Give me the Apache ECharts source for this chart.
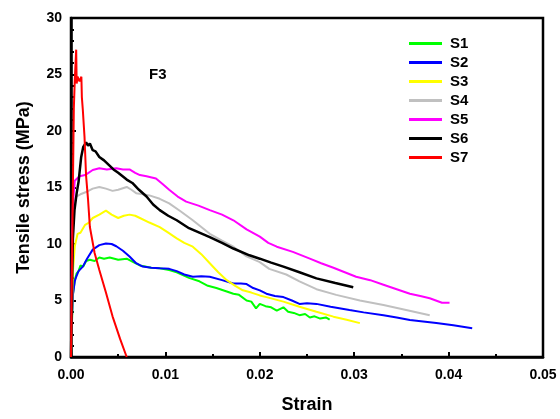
<!DOCTYPE html>
<html>
<head>
<meta charset="utf-8">
<script src="https://cdn.jsdelivr.net/npm/echarts@6/dist/echarts.min.js"></script>
<style>
  html, body { margin: 0; padding: 0; background: #fff; }
  #main { width: 560px; height: 419px; }
</style>
</head>
<body>
<div id="main"></div>
<script>
// tick labels / names
var xTicks = [0, 0.01, 0.02, 0.03, 0.04, 0.05];
var yTicks = [0, 5, 10, 15, 20, 25, 30];
var names = ['S1', 'S2', 'S3', 'S4', 'S5', 'S6', 'S7'];
var colors = ['#00ff00', '#0000ff', '#ffff00', '#c0c0c0', '#ff00ff', '#000000', '#ff0000'];

// [strain, stress MPa]
var s1 = [[0,0],[0.0001,3],[0.0002,5.5],[0.0004,6.8],[0.0006,7.4],[0.0008,7.6],[0.001,8.1],[0.0013,8.0],[0.0016,8.5],[0.002,8.6],[0.0025,8.5],[0.003,8.8],[0.0035,8.7],[0.0041,8.8],[0.005,8.6],[0.0059,8.7],[0.0066,8.4],[0.0073,8.1],[0.0085,7.9],[0.0094,7.85],[0.0104,7.7],[0.0112,7.5],[0.0125,7.0],[0.0136,6.7],[0.0145,6.3],[0.0154,6.1],[0.0165,5.8],[0.0172,5.6],[0.0178,5.5],[0.0186,5.0],[0.0191,4.9],[0.0196,4.3],[0.02,4.7],[0.0206,4.5],[0.0212,4.4],[0.0218,4.1],[0.0225,4.4],[0.023,4.0],[0.0236,3.9],[0.0242,3.7],[0.0248,3.8],[0.0253,3.5],[0.0258,3.6],[0.0264,3.4],[0.027,3.5],[0.0274,3.3]];
var s2 = [[0,0],[0.0001,3.5],[0.0002,5.5],[0.0004,6.7],[0.00055,7.1],[0.0008,7.6],[0.00125,8.0],[0.0017,8.7],[0.0023,9.5],[0.003,9.9],[0.0037,10.05],[0.0043,10.0],[0.0048,9.8],[0.0055,9.4],[0.0062,8.9],[0.0069,8.3],[0.0076,8.0],[0.0085,7.9],[0.0094,7.85],[0.0104,7.8],[0.0112,7.6],[0.012,7.3],[0.0129,7.1],[0.0138,7.15],[0.0147,7.1],[0.016,6.8],[0.0172,6.5],[0.018,6.5],[0.0186,6.45],[0.0193,6.1],[0.02,5.9],[0.0207,5.6],[0.0216,5.4],[0.0225,5.3],[0.0234,5.0],[0.0242,4.7],[0.025,4.75],[0.026,4.7],[0.0275,4.45],[0.0295,4.16],[0.031,3.95],[0.0331,3.7],[0.0345,3.5],[0.0359,3.27],[0.0373,3.15],[0.0387,3.0],[0.0405,2.8],[0.0425,2.55]];
var s3 = [[0,0],[0.0001,4],[0.0002,7.5],[0.0004,9.8],[0.0007,10.9],[0.001,11.0],[0.0015,11.7],[0.0019,11.9],[0.0023,12.3],[0.003,12.6],[0.0037,12.95],[0.0043,12.6],[0.005,12.3],[0.0056,12.5],[0.0062,12.6],[0.0068,12.5],[0.0073,12.3],[0.0083,11.9],[0.0094,11.5],[0.0103,11.0],[0.0112,10.5],[0.012,10.1],[0.0129,9.76],[0.0138,9.1],[0.0147,8.3],[0.0156,7.5],[0.0165,6.8],[0.0174,6.3],[0.0182,5.9],[0.0191,5.7],[0.02,5.45],[0.0207,5.3],[0.0225,4.9],[0.0242,4.45],[0.026,4.0],[0.0278,3.57],[0.0292,3.3],[0.0306,3.0]];
var s4 = [[0,0],[0.0001,7],[0.0002,11.5],[0.0003,13.5],[0.00055,14.2],[0.001,14.4],[0.0016,14.6],[0.0023,14.9],[0.003,15.05],[0.0037,14.9],[0.0044,14.7],[0.005,14.8],[0.0059,15.05],[0.0064,14.8],[0.0069,14.5],[0.0076,14.4],[0.0083,14.3],[0.0094,14.0],[0.0104,13.6],[0.0116,12.9],[0.0129,12.1],[0.0138,11.5],[0.0147,10.9],[0.016,10.3],[0.0172,9.76],[0.0186,8.9],[0.02,8.4],[0.021,7.8],[0.0228,7.3],[0.0242,6.7],[0.026,6.0],[0.0281,5.5],[0.0306,5.0],[0.0331,4.6],[0.0355,4.16],[0.038,3.7]];
var s5 = [[0,0],[0.0001,9],[0.0002,13.5],[0.0004,15.6],[0.0009,16.0],[0.0015,16.1],[0.0023,16.55],[0.003,16.7],[0.0038,16.6],[0.0048,16.7],[0.0055,16.6],[0.0062,16.6],[0.0068,16.3],[0.0073,16.1],[0.008,16.0],[0.009,15.8],[0.0097,15.3],[0.0104,14.8],[0.0113,14.2],[0.0122,13.75],[0.0135,13.4],[0.0147,13.0],[0.016,12.6],[0.0172,12.1],[0.0186,11.3],[0.02,10.65],[0.0209,10.1],[0.0218,9.76],[0.0235,9.3],[0.0253,8.7],[0.0265,8.3],[0.0278,7.9],[0.029,7.5],[0.0302,7.1],[0.0317,6.8],[0.0331,6.4],[0.0345,6.0],[0.0359,5.6],[0.037,5.4],[0.038,5.2],[0.0393,4.8],[0.0401,4.8]];
var s6 = [[0,0],[0.0001,6],[0.0002,10.5],[0.00037,13],[0.0006,14.5],[0.0008,15.5],[0.00108,17.7],[0.0013,18.6],[0.0016,19.0],[0.0018,18.7],[0.002,18.9],[0.0023,18.3],[0.0026,18.2],[0.003,17.7],[0.0035,17.4],[0.004,17.0],[0.0045,16.6],[0.005,16.3],[0.0059,15.7],[0.0065,15.4],[0.0072,14.8],[0.008,14.2],[0.0087,13.5],[0.0094,13.0],[0.0103,12.5],[0.0112,12.1],[0.0125,11.4],[0.0136,11.0],[0.0147,10.6],[0.016,10.1],[0.0172,9.6],[0.0189,9.0],[0.02,8.7],[0.0212,8.35],[0.0225,8.0],[0.0242,7.5],[0.026,6.96],[0.028,6.55],[0.0299,6.17]];
var s7 = [[0,0],[0.0002,15],[0.0003,22],[0.0004,24.5],[0.00055,27.2],[0.0006,24.2],[0.0007,24.8],[0.0009,24.4],[0.0011,24.8],[0.00115,23],[0.00125,21.9],[0.00143,19.5],[0.0016,16],[0.0018,14],[0.002,11.5],[0.0025,9.2],[0.003,7.7],[0.0037,5.7],[0.0044,3.6],[0.0052,1.6],[0.0059,0]];
var allData = [s1, s2, s3, s4, s5, s6, s7];

var chart = echarts.init(document.getElementById('main'));
var bold = { fontFamily: 'Liberation Sans, Arial, sans-serif', fontWeight: 'bold', color: '#000' };

var series = [];
for (var i = 0; i < names.length; i++) {
  series.push({
    name: names[i],
    type: 'line',
    data: allData[i],
    showSymbol: false,
    symbol: 'none',
    color: colors[i],
    lineStyle: { width: i == 5 ? 2.5 : 2, color: colors[i] },
    animation: false
  });
}

var option = {
  backgroundColor: '#fff',
  animation: false,
  title: {
    text: 'F3',
    left: 144, top: 62,
    textStyle: Object.assign({ fontSize: 15 }, bold)
  },
  grid: { left: 71, right: 17, top: 18, bottom: 61, show: true, borderColor: '#000', borderWidth: 2.5 },
  legend: {
    orient: 'vertical',
    left: 409, top: 36,
    padding: 0,
    icon: 'rect',
    itemWidth: 33, itemHeight: 3,
    itemGap: 4,
    textStyle: Object.assign({ fontSize: 15, padding: [0, 0, 0, 3] }, bold),
    data: names
  },
  xAxis: {
    type: 'value',
    min: xTicks[0], max: xTicks[xTicks.length - 1], interval: 0.01,
    name: 'Strain', nameLocation: 'middle', nameGap: 39,
    nameTextStyle: Object.assign({ fontSize: 18 }, bold),
    axisLine: { lineStyle: { color: '#000', width: 2.5 } },
    axisTick: { inside: true, length: 5, lineStyle: { color: '#000', width: 2 } },
    minorTick: { show: true, splitNumber: 2, length: 3, lineStyle: { color: '#000', width: 2 } },
    splitLine: { show: false },
    axisLabel: Object.assign({ fontSize: 14, margin: 11, formatter: function (v) { return v.toFixed(2); } }, bold)
  },
  yAxis: {
    type: 'value',
    min: yTicks[0], max: yTicks[yTicks.length - 1], interval: 5,
    name: 'Tensile stress (MPa)', nameLocation: 'middle', nameGap: 38,
    nameTextStyle: Object.assign({ fontSize: 18 }, bold),
    axisLine: { lineStyle: { color: '#000', width: 2.5 } },
    axisTick: { inside: true, length: 5, lineStyle: { color: '#000', width: 2 } },
    minorTick: { show: true, splitNumber: 5, length: 3, lineStyle: { color: '#000', width: 2 } },
    splitLine: { show: false },
    axisLabel: Object.assign({ fontSize: 14, margin: 9 }, bold)
  },
  series: series
};
chart.setOption(option);
</script>
</body>
</html>
